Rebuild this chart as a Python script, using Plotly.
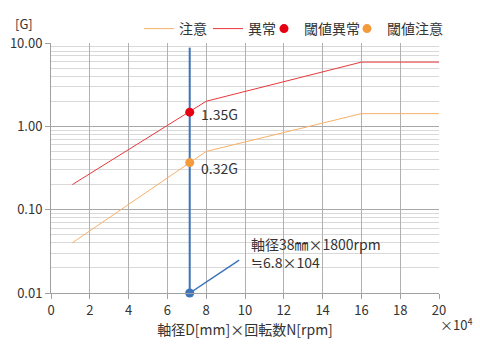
import math
import plotly.graph_objects as go

# Data
x_caution = [1.1, 8, 16, 20]
y_caution = [0.04, 0.5, 1.42, 1.42]
x_abnormal = [1.1, 8, 16, 20]
y_abnormal = [0.2, 2.0, 5.9, 5.9]
x_threshold = [7.15]
y_th_abnormal = [1.48]
y_th_caution = [0.367]
th_abnormal_label = "1.35G"
th_caution_label = "0.32G"
x_marker_line = [7.15, 7.15]
y_marker_line = [8.8, 0.01]
x_callout = [7.15, 9.7]
y_callout = [0.01, 0.0248]
x_callout_point = [7.15]
y_callout_point = [0.01]
callout_text = "軸径38㎜×1800rpm<br>≒6.8×104"
x_ticks = [0, 2, 4, 6, 8, 10, 12, 14, 16, 18, 20]
y_ticks = [0.01, 0.1, 1, 10]
y_tick_labels = ["0.01", "0.10", "1.00", "10.00"]

FONT = "Noto Sans CJK JP"
TXT = "#333333"
BLUE = "#3e74b8"

fig = go.Figure()
fig.add_trace(go.Scatter(x=x_marker_line, y=y_marker_line, mode="lines",
                         line=dict(color=BLUE, width=2), showlegend=False, hoverinfo="skip"))
fig.add_trace(go.Scatter(x=x_callout, y=y_callout, mode="lines",
                         line=dict(color=BLUE, width=1.5),
                         showlegend=False, hoverinfo="skip"))
fig.add_trace(go.Scatter(x=x_callout_point, y=y_callout_point, mode="markers",
                         marker=dict(color=BLUE, size=9),
                         showlegend=False, hoverinfo="skip", cliponaxis=False))
fig.add_trace(go.Scatter(x=x_caution, y=y_caution, mode="lines", name="注意",
                         line=dict(color="#f8b069", width=1), legendwidth=24))
fig.add_trace(go.Scatter(x=x_abnormal, y=y_abnormal, mode="lines", name="異常",
                         line=dict(color="#e8383d", width=1), legendwidth=11))
fig.add_trace(go.Scatter(x=x_threshold, y=y_th_abnormal, mode="markers", name="閾値異常",
                         marker=dict(color="#e60012", size=9), legendwidth=38))
fig.add_trace(go.Scatter(x=x_threshold, y=y_th_caution, mode="markers", name="閾値注意",
                         marker=dict(color="#f39a3a", size=9), legendwidth=60))

def ly(px):
    # page pixel (from top) -> log10 value on y axis
    return (293 - px) / 83.5 - 2

ann = []
ann.append(dict(x=x_threshold[0], y=math.log10(y_th_abnormal[0]),
                text=th_abnormal_label, showarrow=False, xanchor="left", yanchor="middle",
                xshift=9, yshift=-2, font=dict(size=14, color=TXT, family=FONT)))
ann.append(dict(x=x_threshold[0], y=math.log10(y_th_caution[0]),
                text=th_caution_label, showarrow=False, xanchor="left", yanchor="middle",
                xshift=9, yshift=-5, font=dict(size=14, color=TXT, family=FONT)))
ann.append(dict(x=10.2, y=ly(253), text=callout_text,
                showarrow=False, xanchor="left", yanchor="middle", align="left",
                font=dict(size=14, color=TXT, family=FONT)))
ann.append(dict(xref="paper", yref="paper", x=-27/388, y=(293 - 24) / 250, text="[G]",
                showarrow=False, xanchor="center", yanchor="middle",
                font=dict(size=13, color=TXT, family=FONT)))
ann.append(dict(xref="paper", yref="paper", x=1 + 17/388, y=-31/250, text="×10<sup>4</sup>",
                showarrow=False, xanchor="center", yanchor="middle",
                font=dict(size=13, color=TXT, family=FONT)))

fig.update_layout(
    width=480, height=357,
    margin=dict(l=51, r=41, t=43, b=64, autoexpand=False),
    paper_bgcolor="white", plot_bgcolor="white",
    font=dict(family=FONT, size=13, color=TXT),
    annotations=ann,
    legend=dict(orientation="h", x=(139 - 51) / 388, y=(293 - 29) / 250, xanchor="left", yanchor="middle",
                font=dict(size=14, color=TXT, family=FONT), itemwidth=30,
                tracegroupgap=0, bgcolor="rgba(0,0,0,0)"),
    xaxis=dict(range=[0, 20], tickvals=x_ticks, showgrid=True, gridcolor="#b0b0b0",
               gridwidth=1, showline=True, linecolor="#a0a0a0", zeroline=False,
               ticks="outside", ticklen=5, tickcolor="#a0a0a0",
               tickfont=dict(size=13, color=TXT),
               title=dict(text="軸径D[mm]×回転数N[rpm]", font=dict(size=14, color=TXT), standoff=4)),
    yaxis=dict(type="log", range=[-2, 1], tickvals=y_ticks, ticktext=y_tick_labels,
               showgrid=True, gridcolor="#a8a8a8", showline=True, linecolor="#a0a0a0",
               ticks="outside", ticklen=5, tickcolor="#a0a0a0", zeroline=False,
               tickfont=dict(size=13, color=TXT),
               minor=dict(showgrid=True, gridcolor="#d9d9d9", dtick="D1", ticks="")),
)

fig.write_html("out.html", config={"displayModeBar": False},
               post_script="document.body.style.margin='0';document.body.style.overflow='hidden';")
